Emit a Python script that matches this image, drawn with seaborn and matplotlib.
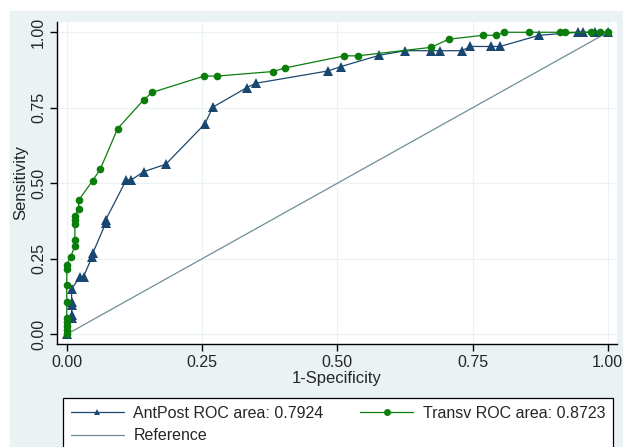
# ROC comparison chart, Stata-like look
import matplotlib
matplotlib.use("Agg")
import matplotlib.pyplot as plt
from matplotlib.patches import Rectangle
import seaborn as sns

# AntPost ROC points (1-specificity, sensitivity)
antpost_fpr = [0, 0.009, 0.009, 0.009, 0.009, 0.009, 0.025, 0.031, 0.047, 0.048,
               0.072, 0.072, 0.110, 0.119, 0.143, 0.183, 0.255, 0.270, 0.333, 0.349,
               0.483, 0.506, 0.578, 0.626, 0.674, 0.690, 0.730, 0.746, 0.785, 0.801,
               0.873, 0.945, 0.954, 0.976, 1.0]
antpost_tpr = [0, 0.053, 0.064, 0.097, 0.108, 0.151, 0.191, 0.191, 0.257, 0.268,
               0.368, 0.379, 0.511, 0.511, 0.539, 0.563, 0.696, 0.752, 0.817, 0.831,
               0.872, 0.886, 0.924, 0.939, 0.939, 0.939, 0.939, 0.953, 0.953, 0.953,
               0.990, 1.0, 1.0, 1.0, 1.0]

# Transv ROC points
transv_fpr = [0, 0, 0, 0, 0, 0, 0, 0, 0, 0.007,
              0.015, 0.015, 0.015, 0.015, 0.015, 0.022, 0.022, 0.048, 0.062, 0.094,
              0.142, 0.158, 0.254, 0.278, 0.381, 0.404, 0.513, 0.538, 0.673, 0.706,
              0.769, 0.793, 0.809, 0.855, 0.912, 0.920, 0.969, 0.985, 1.0]
transv_tpr = [0, 0.014, 0.027, 0.041, 0.054, 0.108, 0.162, 0.216, 0.230, 0.256,
              0.292, 0.312, 0.365, 0.379, 0.392, 0.414, 0.444, 0.509, 0.547, 0.681,
              0.776, 0.801, 0.855, 0.855, 0.870, 0.882, 0.922, 0.922, 0.950, 0.977,
              0.990, 0.990, 1.0, 1.0, 1.0, 1.0, 1.0, 1.0, 1.0]

ref_x = [0, 1]
ref_y = [0, 1]

labels = ["AntPost ROC area: 0.7924", "Transv ROC area: 0.8723", "Reference"]
ticks = [0, 0.25, 0.5, 0.75, 1.0]

sns.set_theme(style="white")
plt.rcParams['font.family'] = ['Liberation Sans', 'DejaVu Sans']

W, H = 623, 447
fig = plt.figure(figsize=(W / 100, H / 100), dpi=100, facecolor="white")

# graph region background (light blue-gray), on its own axes behind everything
bg = fig.add_axes([0, 0, 1, 1], zorder=-1)
bg.axis("off")
bg.add_patch(Rectangle((10 / W, 0), 1 - 10 / W, 1 - 11 / H,
                       transform=bg.transAxes, color="#eaf2f3"))

ax = fig.add_axes([57 / W, 1 - 344 / H, 560 / W, 322 / H], zorder=1)
ax.set_facecolor("white")

navy = "#1a476f"
green = "#0b7d0b"
refc = "#6f8d99"

sns.lineplot(x=ref_x, y=ref_y, ax=ax, color=refc, lw=0.9, label=labels[2])
sns.lineplot(x=antpost_fpr, y=antpost_tpr, ax=ax, estimator=None, sort=False,
             color=navy, lw=0.9, marker="^", markersize=6.5, markeredgewidth=0,
             label=labels[0])
sns.lineplot(x=transv_fpr, y=transv_tpr, ax=ax, estimator=None, sort=False,
             color=green, lw=0.9, marker="o", markersize=5.5, markeredgewidth=0,
             label=labels[1])

ax.set_xlim(-0.018, 1.017)
ax.set_ylim(-0.032, 1.034)
ax.set_xticks(ticks)
ax.set_yticks(ticks)
ax.set_xticklabels([f"{t:.2f}" for t in ticks], fontsize=11.5)
ax.set_yticklabels([f"{t:.2f}" for t in ticks], fontsize=11.5, rotation=90, va="center")
ax.tick_params(axis="both", direction="out", length=5, width=1, color="black",
               bottom=True, left=True, pad=3)
ax.grid(True, color="#eaf2f3", lw=0.8)
ax.set_axisbelow(True)
for s in ["top", "right"]:
    ax.spines[s].set_visible(False)
for s in ["left", "bottom"]:
    ax.spines[s].set_color("black")
    ax.spines[s].set_linewidth(1)

ax.set_xlabel("1-Specificity", fontsize=12, labelpad=1)
ax.set_ylabel("Sensitivity", fontsize=12, labelpad=2)

# legend in graph region, below the plot
h, l = ax.get_legend_handles_labels()
ax.get_legend().remove()
order = [l.index(labels[0]), l.index(labels[2]), l.index(labels[1])]
top = 1 - 398 / H
leg = fig.legend([h[i] for i in order], [l[i] for i in order], ncol=2,
                 loc="upper left", bbox_to_anchor=(63 / W, top - 0.1, 550 / W, 0.1),
                 mode="expand", numpoints=1, fontsize=11.5, frameon=True,
                 fancybox=False, edgecolor="black", framealpha=1,
                 handlelength=3.3, handletextpad=0.6, borderaxespad=0,
                 borderpad=0.5, labelspacing=0.45)
leg.get_frame().set_linewidth(0.9)
for lh in leg.legend_handles:
    lh.set_markersize(5)

fig.savefig("out.png", dpi=100)
